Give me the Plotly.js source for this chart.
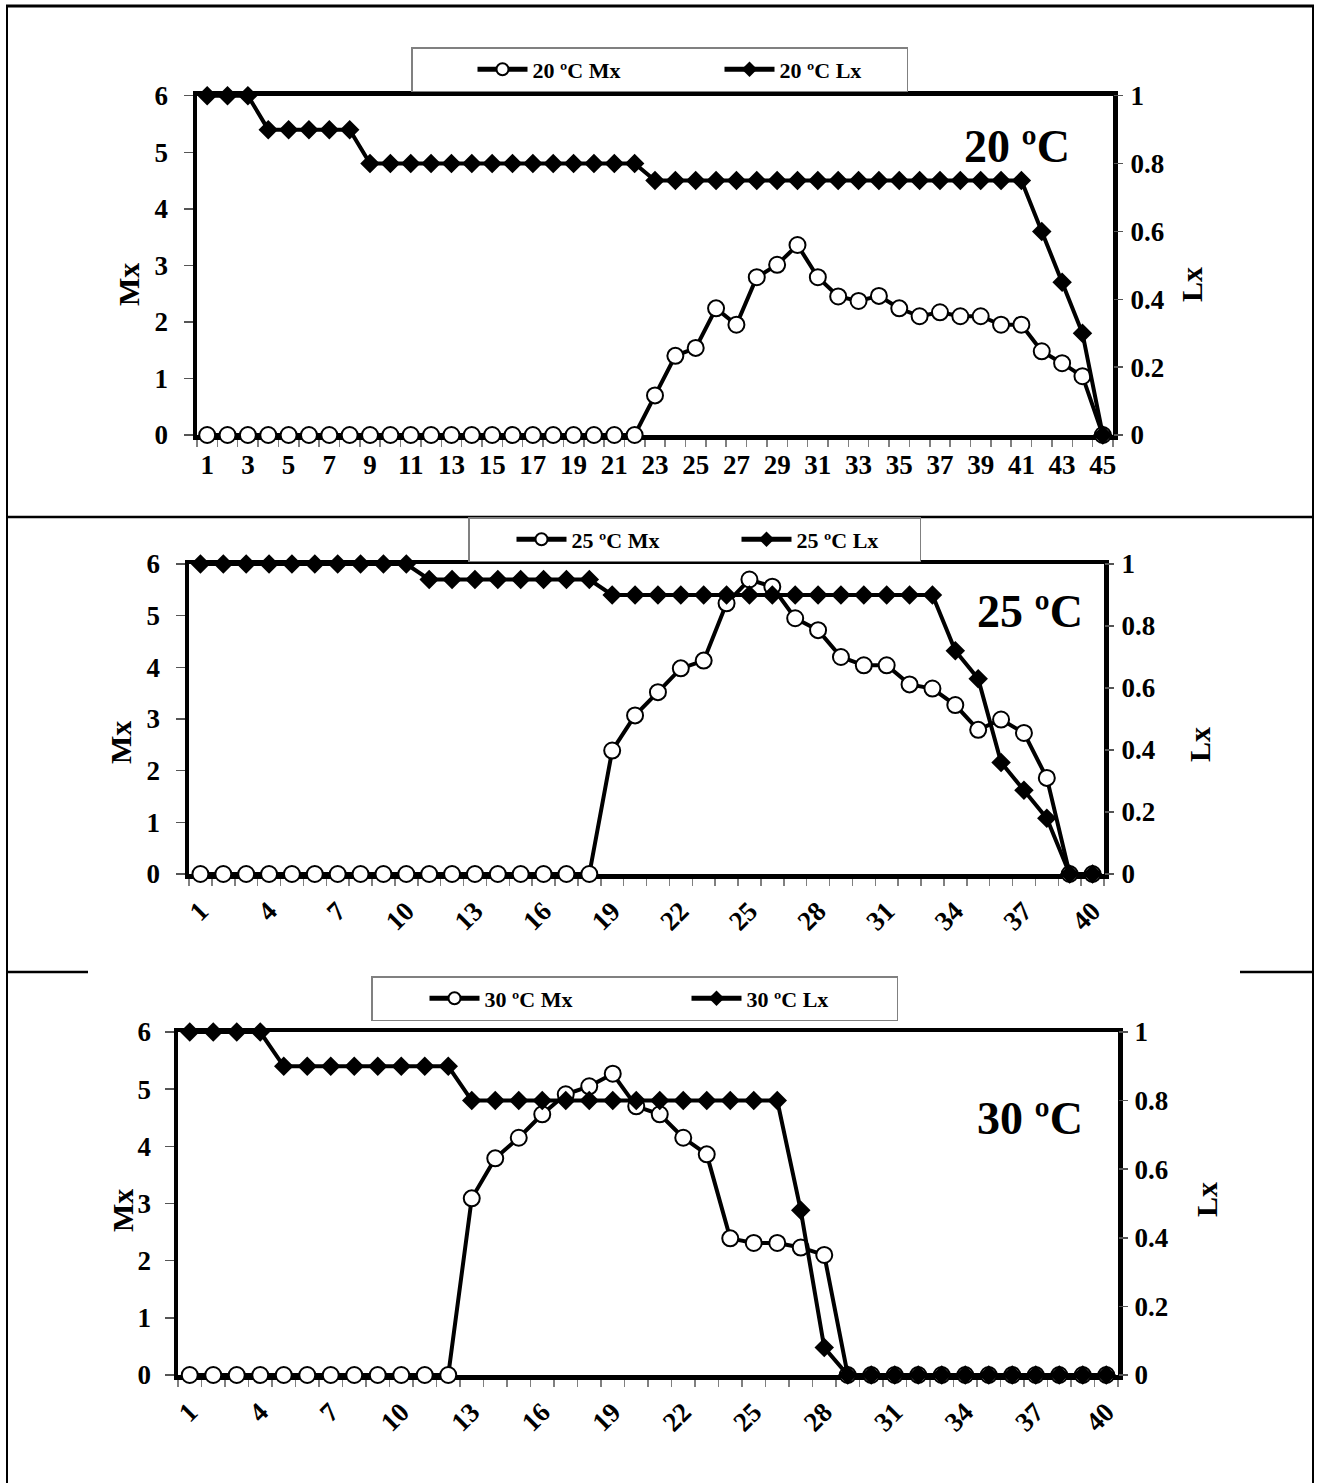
<!DOCTYPE html>
<html>
<head>
<meta charset="utf-8">
<script src="https://cdn.plot.ly/plotly-3.0.1.min.js"></script>
<style>html,body{margin:0;padding:0;background:#fff;}#chart{width:1320px;height:1483px;}</style>
</head>
<body>
<div id="chart"></div>
<script>
// ---------- data ----------
const days20 = [1,2,3,4,5,6,7,8,9,10,11,12,13,14,15,16,17,18,19,20,21,22,23,24,25,26,27,28,29,30,31,32,33,34,35,36,37,38,39,40,41,42,43,44,45];
const mx20 = [0,0,0,0,0,0,0,0,0,0,0,0,0,0,0,0,0,0,0,0,0,0,
  0.70,1.40,1.54,2.24,1.95,2.79,3.01,3.36,2.79,2.45,2.37,2.46,2.24,2.10,2.17,2.10,2.10,1.95,1.95,1.48,1.27,1.04,0];
const lx20 = [1,1,1,0.9,0.9,0.9,0.9,0.9,0.8,0.8,0.8,0.8,0.8,0.8,0.8,0.8,0.8,0.8,0.8,0.8,0.8,0.8,
  0.75,0.75,0.75,0.75,0.75,0.75,0.75,0.75,0.75,0.75,0.75,0.75,0.75,0.75,0.75,0.75,0.75,0.75,0.75,0.6,0.45,0.3,0];
const ticks20 = [1,3,5,7,9,11,13,15,17,19,21,23,25,27,29,31,33,35,37,39,41,43,45];

const days25 = [1,2,3,4,5,6,7,8,9,10,11,12,13,14,15,16,17,18,19,20,21,22,23,24,25,26,27,28,29,30,31,32,33,34,35,36,37,38,39,40];
const mx25 = [0,0,0,0,0,0,0,0,0,0,0,0,0,0,0,0,0,0,
  2.39,3.07,3.52,3.98,4.13,5.24,5.70,5.56,4.95,4.72,4.20,4.04,4.04,3.67,3.59,3.27,2.79,2.99,2.73,1.86,0,0];
const lx25 = [1,1,1,1,1,1,1,1,1,1,0.95,0.95,0.95,0.95,0.95,0.95,0.95,0.95,
  0.9,0.9,0.9,0.9,0.9,0.9,0.9,0.9,0.9,0.9,0.9,0.9,0.9,0.9,0.9,0.72,0.63,0.36,0.27,0.18,0,0];

const days30 = [1,2,3,4,5,6,7,8,9,10,11,12,13,14,15,16,17,18,19,20,21,22,23,24,25,26,27,28,29,30,31,32,33,34,35,36,37,38,39,40];
const mx30 = [0,0,0,0,0,0,0,0,0,0,0,0,
  3.09,3.79,4.15,4.56,4.91,5.05,5.27,4.70,4.56,4.15,3.86,2.39,2.31,2.31,2.23,2.10,0,0,0,0,0,0,0,0,0,0,0,0];
const lx30 = [1,1,1,1,0.9,0.9,0.9,0.9,0.9,0.9,0.9,0.9,
  0.8,0.8,0.8,0.8,0.8,0.8,0.8,0.8,0.8,0.8,0.8,0.8,0.8,0.8,0.48,0.08,0,0,0,0,0,0,0,0,0,0,0,0];
const ticks2540 = [1,4,7,10,13,16,19,22,25,28,31,34,37,40];

const mxTicks = [0,1,2,3,4,5,6];
const lxTicks = [0,0.2,0.4,0.6,0.8,1];
const lxTickText = ['0','0.2','0.4','0.6','0.8','1'];

const names = {
  mx20:'20 ºC Mx', lx20:'20 ºC Lx', mx25:'25 ºC Mx', lx25:'25 ºC Lx', mx30:'30 ºC Mx', lx30:'30 ºC Lx'
};
const panelLabels = ['20 ºC','25 ºC','30 ºC'];

// ---------- helpers ----------
const W = 1320, H = 1483;
const FONT = 'Liberation Serif, Times New Roman, serif';
const fx = p => p / W;
const fy = p => 1 - p / H;
const bounds = d => d.map(v => v - 0.5).concat([d[d.length - 1] + 0.5]);

function mxTrace(x, y, xa, ya, name, leg) {
  return {x, y, xaxis: xa, yaxis: ya, name, legend: leg, type: 'scatter', mode: 'lines+markers',
    cliponaxis: false,
    line: {color: '#000', width: 4},
    marker: {symbol: 'circle', size: 16, color: '#fff', line: {color: '#000', width: 2}}};
}
function lxTrace(x, y, xa, ya, name, leg) {
  return {x, y, xaxis: xa, yaxis: ya, name, legend: leg, type: 'scatter', mode: 'lines+markers',
    cliponaxis: false,
    line: {color: '#000', width: 4},
    marker: {symbol: 'diamond', size: 15, color: '#000', line: {color: '#000', width: 0}}};
}

const tickFont = {family: FONT, size: 27, color: '#000', weight: 'bold'};

function xMain(dom, days, tv, angle, standoff) {
  return {domain: dom, range: [days[0] - 0.5, days[days.length - 1] + 0.5], tickmode: 'array',
    tickvals: tv, ticktext: tv.map(String), ticks: '', tickangle: angle,
    showline: true, mirror: true, linewidth: 4.5, linecolor: '#000',
    showgrid: false, zeroline: false, tickfont: tickFont, layer: 'below traces', fixedrange: true,
    ticklabelstandoff: standoff,
    minor: {tickmode: 'array', tickvals: bounds(days), ticks: 'outside', ticklen: 7, tickwidth: 1.5, tickcolor: '#808080', showgrid: false}};
}
function xCross(base, days) {
  return {overlaying: base, range: [days[0] - 0.5, days[days.length - 1] + 0.5], showticklabels: false,
    ticks: '', showline: false, showgrid: false, zeroline: false, layer: 'below traces', fixedrange: true,
    minor: {tickmode: 'array', tickvals: bounds(days), ticks: 'inside', ticklen: 7, tickwidth: 1.5, tickcolor: '#808080', showgrid: false}};
}
function yLeft(dom, anchor, standoff) {
  return {domain: dom, anchor, range: [0, 6], tickmode: 'array', tickvals: mxTicks, ticktext: mxTicks.map(String),
    ticks: 'outside', ticklen: 9, tickwidth: 1.5, tickcolor: '#555',
    showline: true, mirror: true, linewidth: 4.5, linecolor: '#000', showgrid: false, zeroline: false,
    tickfont: tickFont, layer: 'below traces', fixedrange: true, ticklabelstandoff: standoff};
}
function yRight(base, anchor, standoff) {
  return {overlaying: base, anchor, side: 'right', range: [0, 1], tickmode: 'array', tickvals: lxTicks, ticktext: lxTickText,
    ticks: 'outside', ticklen: 9, tickwidth: 1.5, tickcolor: '#555',
    showline: false, showgrid: false, zeroline: false, tickfont: tickFont, layer: 'below traces', fixedrange: true,
    ticklabelstandoff: standoff};
}

const data = [
  mxTrace(days20, mx20, 'x', 'y', names.mx20, 'legend'),
  lxTrace(days20, lx20, 'x', 'y2', names.lx20, 'legend'),
  mxTrace(days25, mx25, 'x2', 'y3', names.mx25, 'legend2'),
  lxTrace(days25, lx25, 'x2', 'y4', names.lx25, 'legend2'),
  mxTrace(days30, mx30, 'x3', 'y5', names.mx30, 'legend3'),
  lxTrace(days30, lx30, 'x3', 'y6', names.lx30, 'legend3')
];

const legendBase = {orientation: 'h', xanchor: 'left', yanchor: 'top', bgcolor: '#fff',
  bordercolor: '#808080', borderwidth: 1.5, itemsizing: 'constant', itemwidth: 50,
  font: {family: FONT, size: 22, color: '#000', weight: 'bold'}, itemclick: false, itemdoubleclick: false};

const annFont = s => ({family: FONT, size: s, color: '#000', weight: 'bold'});
function ann(text, x, y, size, angle) {
  return {text, x: fx(x), y: fy(y), xref: 'paper', yref: 'paper', showarrow: false,
    font: annFont(size), textangle: angle || 0, xanchor: 'center', yanchor: 'middle'};
}

const lineShape = (x0, y0, x1, y1, w) => ({type: 'line', xref: 'paper', yref: 'paper',
  x0: fx(x0), y0: fy(y0), x1: fx(x1), y1: fy(y1), line: {color: '#000', width: w}});

const layout = {
  width: W, height: H, margin: {l: 0, r: 0, t: 0, b: 0}, paper_bgcolor: '#fff', plot_bgcolor: 'rgba(0,0,0,0)',
  showlegend: true, hovermode: false,
  xaxis: Object.assign(xMain([fx(197), fx(1113)], days20, ticks20, 0, 2), {anchor: 'y'}),
  xaxis4: Object.assign(xCross('x', days20), {anchor: 'y'}),
  yaxis: yLeft([fy(435), fy(95.7)], 'x', 10),
  yaxis2: yRight('y', 'x', 2),
  xaxis2: Object.assign(xMain([fx(189), fx(1104)], days25, ticks2540, -45, 6), {anchor: 'y3'}),
  xaxis5: Object.assign(xCross('x2', days25), {anchor: 'y3'}),
  yaxis3: yLeft([fy(874), fy(564)], 'x2', 10),
  yaxis4: yRight('y3', 'x2', 2),
  xaxis3: Object.assign(xMain([fx(178), fx(1118)], days30, ticks2540, -45, 6), {anchor: 'y5'}),
  xaxis6: Object.assign(xCross('x3', days30), {anchor: 'y5'}),
  yaxis5: yLeft([fy(1375), fy(1032)], 'x3', 8),
  yaxis6: yRight('y5', 'x3', 1),
  legend: Object.assign({}, legendBase, {x: fx(411), y: fy(47), indentation: 60, entrywidth: 122}),
  legend2: Object.assign({}, legendBase, {x: fx(468), y: fy(517), indentation: 42, entrywidth: 118}),
  legend3: Object.assign({}, legendBase, {x: fx(371), y: fy(976), indentation: 52, entrywidth: 145}),
  annotations: [
    ann('Mx', 128, 285, 30, -90), ann('Lx', 1191, 285, 30, -90),
    ann('Mx', 120, 743, 30, -90), ann('Lx', 1200, 745, 30, -90),
    ann('Mx', 122, 1211, 30, -90), ann('Lx', 1206, 1200, 30, -90),
    ann(panelLabels[0], 1017, 147, 46), ann(panelLabels[1], 1030, 612, 46), ann(panelLabels[2], 1030, 1118, 46)
  ],
  shapes: [
    lineShape(6, 6, 1314, 6, 3),
    lineShape(7, 5, 7, 1483, 2),
    lineShape(1313, 5, 1313, 1483, 2),
    lineShape(6, 517, 1314, 517, 2.5),
    lineShape(6, 972, 88, 972, 2.5),
    lineShape(1240, 972, 1314, 972, 2.5)
  ]
};

Plotly.newPlot('chart', data, layout, {staticPlot: true, displayModeBar: false});
</script>
</body>
</html>
